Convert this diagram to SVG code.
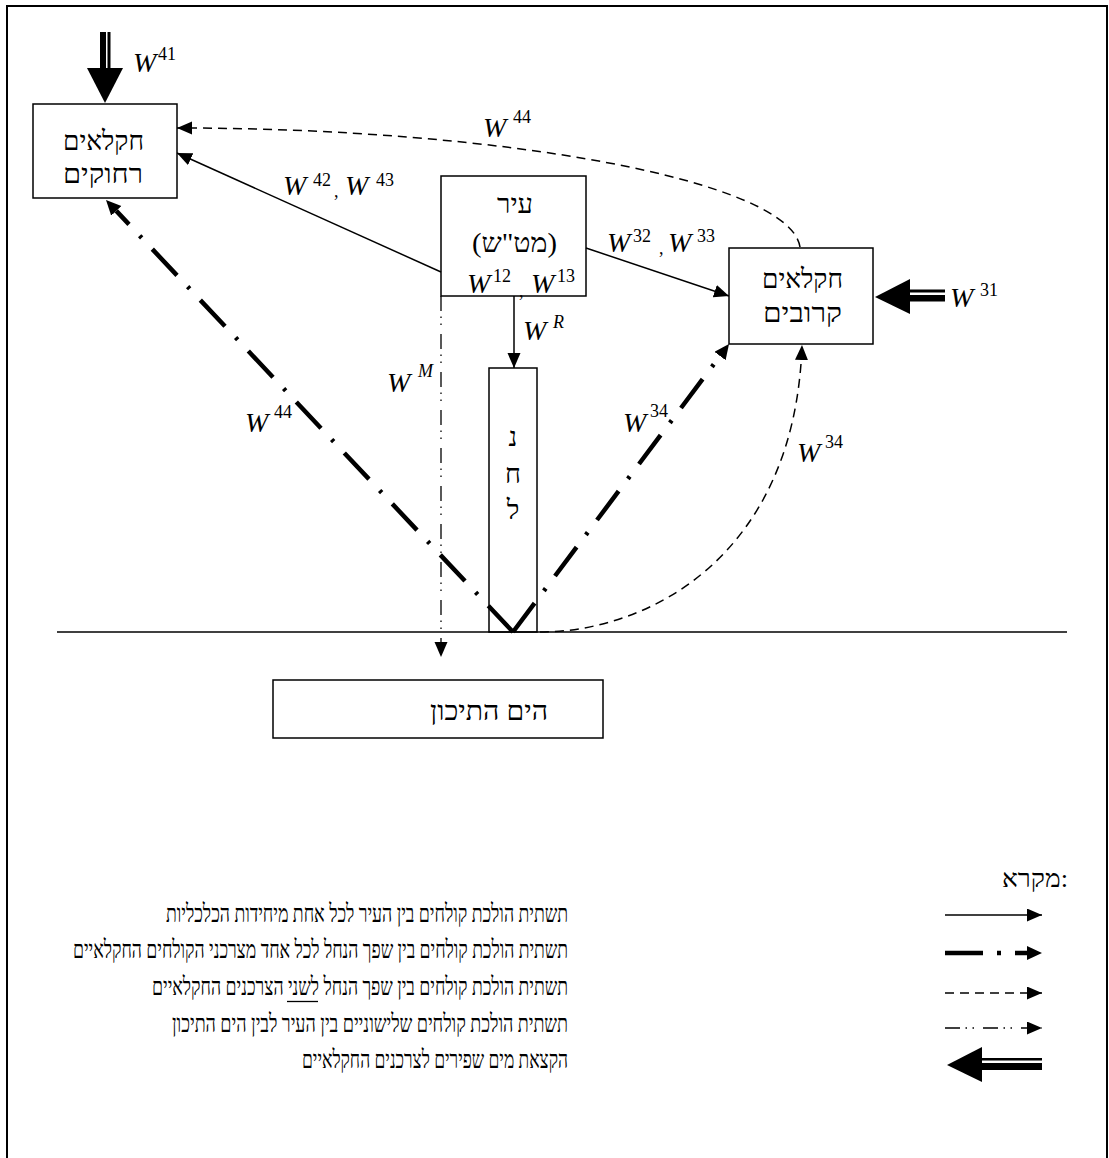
<svg xmlns="http://www.w3.org/2000/svg" width="1109" height="1158" viewBox="0 0 1109 1158">
<style>
.box{fill:#fff;stroke:#000;stroke-width:1.5}
.heb{font-family:"Liberation Serif","Noto Serif Hebrew","DejaVu Sans",serif;font-size:27px;fill:#000}
.leg{font-family:"Liberation Serif","Noto Serif Hebrew","DejaVu Sans",serif;font-size:25px;fill:#000}
.w{font-family:"Liberation Serif","Times New Roman",serif;font-style:italic;font-size:28px;fill:#000}
.s{font-family:"Liberation Serif","Times New Roman",serif;font-size:18px;fill:#000}
.si{font-family:"Liberation Serif","Times New Roman",serif;font-style:italic;font-size:18px;fill:#000}
.solid{fill:none;stroke:#000;stroke-width:1.5}
.dash{fill:none;stroke:#000;stroke-width:1.5;stroke-dasharray:9 6}
.dd{fill:none;stroke:#000;stroke-width:1.3;stroke-dasharray:15 5.5 1.5 5.5 1.5 9}
.thick{fill:none;stroke:#000;stroke-width:4.5;stroke-dasharray:36 15.5 3 15.5}
</style>
<defs>
<marker id="ah" markerUnits="userSpaceOnUse" markerWidth="16" markerHeight="14" refX="15" refY="6.5" orient="auto">
<path d="M0,0 L15,6.5 L0,13 z" fill="#000"/>
</marker>
<marker id="ahk" markerUnits="userSpaceOnUse" markerWidth="16" markerHeight="15" refX="0" refY="7" orient="auto">
<path d="M0,0 L15,7 L0,14 z" fill="#000"/>
</marker>
</defs>
<rect x="0" y="0" width="1109" height="1158" fill="#fff"/>
<rect x="7" y="6" width="1100" height="1170" fill="none" stroke="#000" stroke-width="2"/>

<g id="connectors">
<line x1="57" y1="632" x2="1067" y2="632" class="solid"/>
<line x1="441" y1="272" x2="177" y2="153" class="solid" marker-end="url(#ah)"/>
<line x1="586" y1="248" x2="729" y2="296" class="solid" marker-end="url(#ah)"/>
<line x1="514" y1="296" x2="514" y2="368" class="solid" marker-end="url(#ah)"/>
<path d="M800,247 C790,180 500,128 177,128" class="dash" marker-end="url(#ah)"/>
<path d="M540,632 C650,632 795,555 802,345" class="dash" marker-end="url(#ah)"/>
<line x1="441" y1="296" x2="441" y2="657" class="dd" marker-end="url(#ah)"/>
<line x1="513" y1="632" x2="116.3" y2="210.9" class="thick" marker-end="url(#ahk)"/>
<line x1="513" y1="632" x2="720" y2="356" class="thick" marker-end="url(#ahk)"/>
<rect x="100" y="32" width="6" height="37" fill="#000"/>
<rect x="107.5" y="32" width="3" height="37" fill="#000"/>
<polygon points="87,68 123,68 105,103" fill="#000"/>
<rect x="909" y="289.5" width="36" height="3" fill="#000"/>
<rect x="909" y="295" width="36" height="6.5" fill="#000"/>
<polygon points="910,279 910,314 875,297" fill="#000"/>
</g>

<g id="labels">
<text class="w" x="133" y="72">W</text><text class="s" x="158" y="60">41</text>
<text class="w" x="483" y="137">W</text><text class="s" x="513" y="123">44</text>
<text class="w" x="283" y="195">W</text><text class="s" x="313" y="186">42</text><text class="s" x="334" y="197">,</text><text class="w" x="345" y="195">W</text><text class="s" x="376" y="186">43</text>
<text class="w" x="607" y="252">W</text><text class="s" x="633" y="242">32</text><text class="s" x="659" y="254">,</text><text class="w" x="668" y="252">W</text><text class="s" x="697" y="242">33</text>
<text class="w" x="467" y="293">W</text><text class="s" x="493" y="282">12</text><text class="s" x="519" y="297">,</text><text class="w" x="531" y="293">W</text><text class="s" x="557" y="282">13</text>
<text class="w" x="523" y="340">W</text><text class="si" x="553" y="328">R</text>
<text class="w" x="387" y="392">W</text><text class="si" x="418" y="377">M</text>
<text class="w" x="245" y="432">W</text><text class="s" x="274" y="418">44</text>
<text class="w" x="623" y="432">W</text><text class="s" x="650" y="417">34</text>
<text class="w" x="797" y="462">W</text><text class="s" x="825" y="448">34</text>
<text class="w" x="950" y="307">W</text><text class="s" x="980" y="296">31</text>
</g>

<g id="far-farmers">
<rect x="33" y="104" width="144" height="94" class="box"/>
<text class="heb" x="103.5" y="150" text-anchor="middle" textLength="81" lengthAdjust="spacingAndGlyphs">חקלאים</text>
<text class="heb" x="103" y="183" text-anchor="middle" textLength="80" lengthAdjust="spacingAndGlyphs">רחוקים</text>
</g>

<g id="city">
<rect x="441" y="176" width="145" height="120" class="box" fill-opacity="0"/>
<text class="heb" x="515" y="213" text-anchor="middle" textLength="36" lengthAdjust="spacingAndGlyphs">עיר</text>
<text class="heb" x="514.5" y="252" text-anchor="middle" textLength="85" lengthAdjust="spacingAndGlyphs">(מט"ש)</text>
</g>

<g id="near-farmers">
<rect x="729" y="248" width="144" height="96" class="box"/>
<text class="heb" x="802.5" y="288" text-anchor="middle" textLength="81" lengthAdjust="spacingAndGlyphs">חקלאים</text>
<text class="heb" x="802.5" y="322" text-anchor="middle" textLength="79" lengthAdjust="spacingAndGlyphs">קרובים</text>
</g>

<g id="river">
<rect x="489" y="368" width="48" height="264" fill="none" stroke="#000" stroke-width="1.5"/>
<text class="heb" x="513" y="446" text-anchor="middle" font-size="28">נ</text>
<text class="heb" x="513" y="483" text-anchor="middle" font-size="28">ח</text>
<text class="heb" x="513" y="519" text-anchor="middle" font-size="28">ל</text>
</g>

<g id="sea">
<rect x="273" y="680" width="330" height="58" class="box"/>
<text class="heb" x="489" y="720" text-anchor="middle" textLength="118" lengthAdjust="spacingAndGlyphs">הים התיכון</text>
</g>

<g id="legend">
<text class="leg" x="1035" y="887" text-anchor="middle" textLength="66" lengthAdjust="spacingAndGlyphs">מקרא:</text>
<line x1="945" y1="915" x2="1042" y2="915" class="solid" marker-end="url(#ah)"/>
<line x1="945" y1="953" x2="1027" y2="953" stroke="#000" stroke-width="4.5" stroke-dasharray="38 14 4 14" marker-end="url(#ahk)"/>
<line x1="945" y1="993" x2="1042" y2="993" class="dash" marker-end="url(#ah)"/>
<line x1="945" y1="1028" x2="1042" y2="1028" class="dd" marker-end="url(#ah)"/>
<rect x="981" y="1058" width="61" height="2.5" fill="#000"/>
<rect x="981" y="1063" width="61" height="7" fill="#000"/>
<polygon points="982,1047 982,1082 947,1065" fill="#000"/>
<text class="leg" x="367" y="922" text-anchor="middle" textLength="402" lengthAdjust="spacingAndGlyphs">תשתית הולכת קולחים בין העיר לכל אחת מיחידות הכלכליות</text>
<text class="leg" x="320.5" y="958" text-anchor="middle" textLength="495" lengthAdjust="spacingAndGlyphs">תשתית הולכת קולחים בין שפך הנחל לכל אחד מצרכני הקולחים החקלאיים</text>
<text class="leg" x="360" y="995" text-anchor="middle" textLength="416" lengthAdjust="spacingAndGlyphs">תשתית הולכת קולחים בין שפך הנחל לשני הצרכנים החקלאיים</text>
<line x1="287" y1="1001.5" x2="318" y2="1001.5" stroke="#000" stroke-width="1.3"/>
<text class="leg" x="370" y="1032" text-anchor="middle" textLength="396" lengthAdjust="spacingAndGlyphs">תשתית הולכת קולחים שלישוניים בין העיר לבין הים התיכון</text>
<text class="leg" x="435" y="1068" text-anchor="middle" textLength="266" lengthAdjust="spacingAndGlyphs">הקצאת מים שפירים לצרכנים החקלאיים</text>
</g>
</svg>
